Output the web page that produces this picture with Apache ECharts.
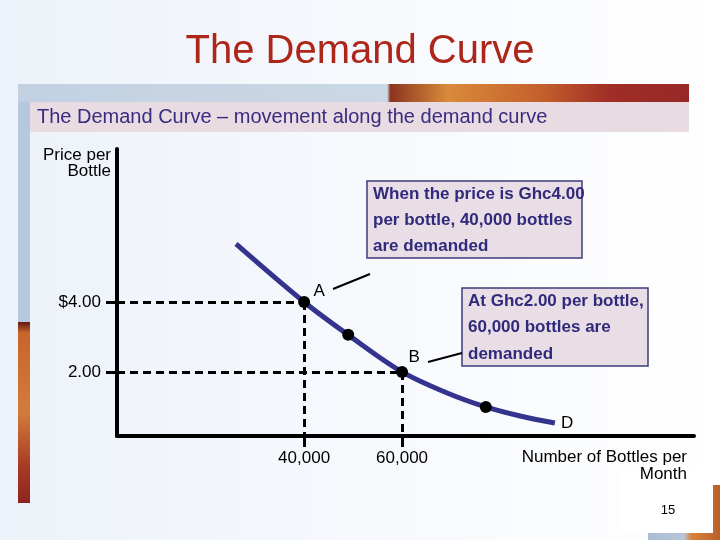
<!DOCTYPE html>
<html>
<head>
<meta charset="utf-8">
</head>
<body style="margin: 0">
<div id="container" style="width: 720px; height: 540px"></div>
<script src="https://cdn.jsdelivr.net/npm/echarts@6/dist/echarts.min.js"></script>
<script>
// demand curve
var curveQty   = [26100, 40000, 49000, 60000, 69200, 77100, 84100, 91200];
var curvePrice = [5.66, 4.00, 3.06, 2.00, 1.40, 1.00, 0.74, 0.54];
// highlighted points on the curve
var dotQty   = [40000, 49000, 60000, 77100];
var dotPrice = [4.00, 3.06, 2.00, 1.00];
var dotNames = ['A', '', 'B', ''];
// tick labels
var priceTicks  = [2, 4];
var priceLabels = ['2.00', '$4.00'];
var qtyTicks  = [40000, 60000];
var qtyLabels = ['40,000', '60,000'];

var xMin = 1800, xMax = 119600;
var yMin = 0.17, yMax = 8.37;
var font = '"Liberation Sans", Arial, sans-serif';

var dom = document.getElementById('container');
var myChart = echarts.init(dom);

var curve = curveQty.map(function (q, i) { return [q, curvePrice[i]]; });
var dots = dotQty.map(function (q, i) {
    return { value: [q, dotPrice[i]], name: dotNames[i] };
});
var labelOffsets = { A: [15, -11], B: [12, -15] };
dots.forEach(function (d) {
    if (d.name) {
        d.label = {
            show: true,
            position: 'inside',
            offset: labelOffsets[d.name],
            color: '#000',
            opacity: 1,
            textBorderWidth: 0
        };
    }
});

// dashed guides from each labelled point to both axes
var guides = [];
qtyTicks.forEach(function (q, i) {
    var p = priceTicks[priceTicks.length - 1 - i];
    guides.push([{ coord: [xMin, p] }, { coord: [q, p] }]);
    guides.push([{ coord: [q, p] }, { coord: [q, yMin] }]);
});

var option = {
    animation: false,
    textStyle: { fontFamily: font },
    grid: { left: 117, right: 26, top: 149, bottom: 104 },
    xAxis: {
        type: 'value',
        min: xMin,
        max: xMax,
        splitLine: { show: false },
        axisLine: { onZero: false, lineStyle: { color: '#000', width: 4 } },
        axisTick: { customValues: qtyTicks, length: 11, lineStyle: { color: '#000', width: 3 } },
        axisLabel: {
            customValues: qtyTicks,
            margin: 14,
            fontSize: 17,
            color: '#000',
            formatter: function (v) { return qtyLabels[qtyTicks.indexOf(v)]; }
        }
    },
    yAxis: {
        type: 'value',
        min: yMin,
        max: yMax,
        splitLine: { show: false },
        axisLine: { onZero: false, lineStyle: { color: '#000', width: 4 } },
        axisTick: { customValues: priceTicks, length: 11, lineStyle: { color: '#000', width: 3 } },
        axisLabel: {
            customValues: priceTicks,
            margin: 16,
            fontSize: 17,
            color: '#000',
            formatter: function (v) { return priceLabels[priceTicks.indexOf(v)]; }
        }
    },
    series: [
        {
            type: 'line',
            data: curve,
            smooth: 0.35,
            showSymbol: false,
            lineStyle: { color: '#34348e', width: 5 },
            endLabel: {
                show: true,
                formatter: 'D',
                distance: 6,
                fontSize: 17,
                color: '#000'
            },
            markLine: {
                silent: true,
                symbol: 'none',
                label: { show: false },
                lineStyle: { color: '#000', type: [8, 5], width: 3 },
                data: guides
            },
            z: 3
        },
        {
            type: 'scatter',
            data: dots,
            symbolSize: 12,
            itemStyle: { color: '#000', opacity: 1 },
            label: {
                show: false,
                formatter: '{b}',
                fontSize: 17,
                color: '#000'
            },
            z: 4
        }
    ],
    graphic: [
        // slide background
        {
            type: 'rect', z: -100,
            shape: { x: 0, y: 0, width: 720, height: 540 },
            style: {
                fill: new echarts.graphic.LinearGradient(0, 0, 1, 0, [
                    { offset: 0, color: '#edf2fa' },
                    { offset: 1, color: '#ffffff' }
                ])
            }
        },
        // left decorative strip
        {
            type: 'rect', z: -50,
            shape: { x: 18, y: 84, width: 12, height: 238 },
            style: { fill: '#b6c8de' }
        },
        {
            type: 'rect', z: -50,
            shape: { x: 18, y: 322, width: 12, height: 181 },
            style: {
                fill: new echarts.graphic.LinearGradient(0, 0, 0, 1, [
                    { offset: 0, color: '#5e1a14' },
                    { offset: 0.06, color: '#c8642c' },
                    { offset: 0.5, color: '#d27c3a' },
                    { offset: 0.8, color: '#a83a24' },
                    { offset: 1, color: '#8e2420' }
                ])
            }
        },
        // top decorative band
        {
            type: 'rect', z: -50,
            shape: { x: 18, y: 84, width: 671, height: 18 },
            style: {
                fill: new echarts.graphic.LinearGradient(0, 0, 1, 0, [
                    { offset: 0, color: '#c2d1e2' },
                    { offset: 0.55, color: '#cbd8e5' },
                    { offset: 0.555, color: '#8a3420' },
                    { offset: 0.64, color: '#d98a3a' },
                    { offset: 0.78, color: '#c4602c' },
                    { offset: 0.88, color: '#a02e26' },
                    { offset: 1, color: '#962828' }
                ])
            }
        },
        {
            type: 'rect', z: -50,
            shape: { x: 30, y: 102, width: 659, height: 30 },
            style: { fill: '#e8dbe2' }
        },
        {
            type: 'text', z: 10,
            x: 37, y: 117,
            style: {
                text: 'The Demand Curve \u2013 movement along the demand curve',
                font: '20px ' + font,
                fill: '#372c80',
                textVerticalAlign: 'middle'
            }
        },
        // title
        {
            type: 'text', z: 10,
            x: 360, y: 52,
            style: {
                text: 'The Demand Curve',
                font: '40px ' + font,
                fill: '#ad2619',
                textAlign: 'center',
                textVerticalAlign: 'middle'
            }
        },
        // axis names
        {
            type: 'text', z: 10,
            x: 111, y: 147,
            style: {
                text: 'Price per\nBottle',
                font: '17px ' + font,
                lineHeight: 16,
                fill: '#000',
                textAlign: 'right',
                textVerticalAlign: 'top'
            }
        },
        {
            type: 'text', z: 10,
            x: 687, y: 449,
            style: {
                text: 'Number of Bottles per\nMonth',
                font: '17px ' + font,
                lineHeight: 17,
                fill: '#000',
                textAlign: 'right',
                textVerticalAlign: 'top'
            }
        },
        // callout boxes
        {
            type: 'rect', z: 10,
            shape: { x: 367, y: 181, width: 215, height: 77 },
            style: { fill: '#e9dde6', stroke: '#3e3a7c', lineWidth: 1.5 }
        },
        {
            type: 'text', z: 11,
            x: 373, y: 181,
            style: {
                text: 'When the price is Ghc4.00\nper bottle, 40,000 bottles\nare demanded',
                font: 'bold 17px ' + font,
                lineHeight: 26,
                fill: '#2f2a7c',
                textVerticalAlign: 'top'
            }
        },
        {
            type: 'rect', z: 10,
            shape: { x: 462, y: 288, width: 186, height: 78 },
            style: { fill: '#e9dde6', stroke: '#3e3a7c', lineWidth: 1.5 }
        },
        {
            type: 'text', z: 11,
            x: 468, y: 288,
            style: {
                text: 'At Ghc2.00 per bottle,\n60,000 bottles are\ndemanded',
                font: 'bold 17px ' + font,
                lineHeight: 26.5,
                fill: '#2f2a7c',
                textVerticalAlign: 'top'
            }
        },
        // pointer lines from A and B to the boxes
        {
            type: 'line', z: 10,
            shape: { x1: 333, y1: 289, x2: 370, y2: 274 },
            style: { stroke: '#000', lineWidth: 2 }
        },
        {
            type: 'line', z: 10,
            shape: { x1: 428, y1: 362, x2: 462, y2: 353 },
            style: { stroke: '#000', lineWidth: 2 }
        },
        // bottom right corner decoration and page number
        {
            type: 'rect', z: -50,
            shape: { x: 648, y: 485, width: 72, height: 55 },
            style: {
                fill: new echarts.graphic.LinearGradient(0, 0, 1, 0, [
                    { offset: 0, color: '#a9bdd5' },
                    { offset: 0.5, color: '#b8c6d6' },
                    { offset: 0.6, color: '#d8843a' },
                    { offset: 1, color: '#b8602a' }
                ])
            }
        },
        {
            type: 'rect', z: -40,
            shape: { x: 620, y: 470, width: 93, height: 63 },
            style: { fill: '#ffffff' }
        },
        {
            type: 'text', z: 10,
            x: 668, y: 510,
            style: {
                text: '15',
                font: '13px ' + font,
                fill: '#000',
                textAlign: 'center',
                textVerticalAlign: 'middle'
            }
        }
    ]
};

myChart.setOption(option);
</script>
</body>
</html>
